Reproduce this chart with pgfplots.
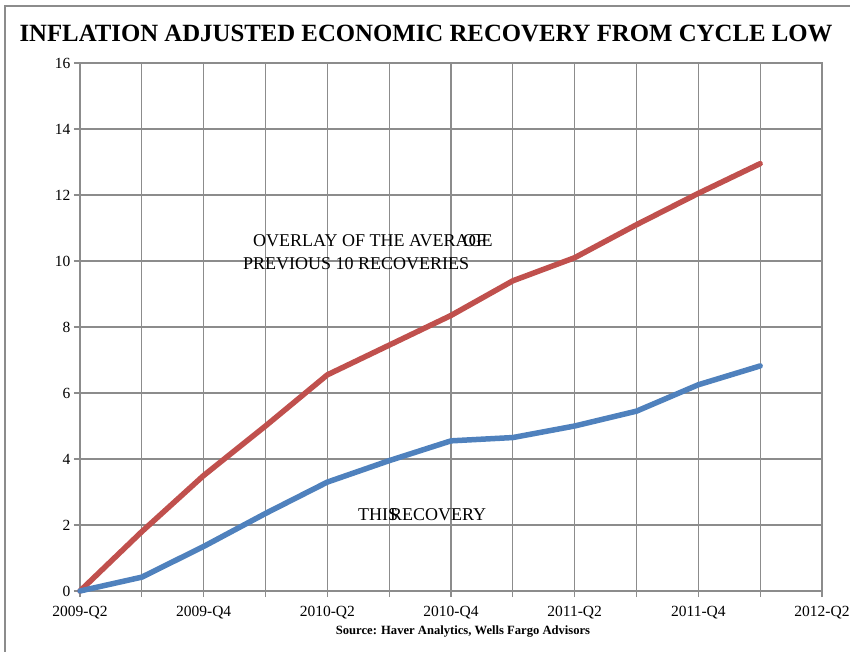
\documentclass[border=0pt]{standalone}
\usepackage{pgfplots}
\pgfplotsset{compat=1.18}
\usepackage{fontspec}
\setmainfont{Liberation Serif}
\definecolor{gridgray}{HTML}{8C8C8C}
\definecolor{xred}{HTML}{C0504D}
\definecolor{xblue}{HTML}{4F81BD}
\begin{document}
\begin{tikzpicture}
\useasboundingbox (-80bp,-61bp) rectangle (770bp,591bp);
\draw[gridgray,line width=1.2bp] (-75bp,-61bp) -- (-75bp,585bp) -- (770bp,585bp);
\begin{axis}[
  scale only axis,
  width=742bp, height=528bp,
  at={(0,0)}, anchor=south west,
  xmin=0, xmax=12, ymin=0, ymax=16,
  xtick={0,...,12},
  xticklabels={2009-Q2,,2009-Q4,,2010-Q2,,2010-Q4,,2011-Q2,,2011-Q4,,2012-Q2},
  ytick={0,2,...,16},
  grid=major,
  major grid style={gridgray,line width=1.2bp},
  axis line style={gridgray,line width=1.2bp},
  tick style={gridgray,line width=1.2bp},
  tick align=outside,
  major tick length=6bp,
  xtick pos=bottom, ytick pos=left,
  /pgf/number format/assume math mode=true,
  tick label style={font=\fontsize{15.5bp}{17bp}\selectfont, text=black},
  xticklabel style={yshift=-6bp},
  clip=false,
]
\addplot[xred, line width=5.5bp, line join=round, line cap=round] coordinates {
(0,0) (1,1.8) (2,3.5) (3,5.0) (4,6.55) (5,7.45) (6,8.35) (7,9.4) (8,10.1) (9,11.1) (10,12.05) (11,12.95)};
\addplot[xblue, line width=5.5bp, line join=round, line cap=round] coordinates {
(0,0) (1,0.42) (2,1.35) (3,2.35) (4,3.3) (5,3.95) (6,4.55) (7,4.65) (8,5.0) (9,5.45) (10,6.25) (11,6.82)};
\end{axis}
\node[font=\fontsize{24.8bp}{26bp}\selectfont\bfseries] at (346bp,558bp) {INFLATION ADJUSTED ECONOMIC RECOVERY FROM CYCLE LOW};
\node[font=\fontsize{12.6bp}{14bp}\selectfont\bfseries] at (383bp,-41bp) {Source: Haver Analytics, Wells Fargo Advisors};
\node[font=\fontsize{18bp}{20bp}\selectfont, anchor=west, inner xsep=0pt] at (173bp,350bp) {OVERLAY OF THE AVERAGE};
\node[font=\fontsize{18bp}{20bp}\selectfont, anchor=west, inner xsep=0pt] at (383bp,350bp) {OF};
\node[font=\fontsize{18bp}{20bp}\selectfont, anchor=west, inner xsep=0pt] at (163bp,327bp) {PREVIOUS 10 RECOVERIES};
\node[font=\fontsize{18bp}{20bp}\selectfont, anchor=west, inner xsep=0pt] at (278bp,76bp) {THIS};
\node[font=\fontsize{18bp}{20bp}\selectfont, anchor=west, inner xsep=0pt] at (310bp,76bp) {RECOVERY};
\end{tikzpicture}
\end{document}
